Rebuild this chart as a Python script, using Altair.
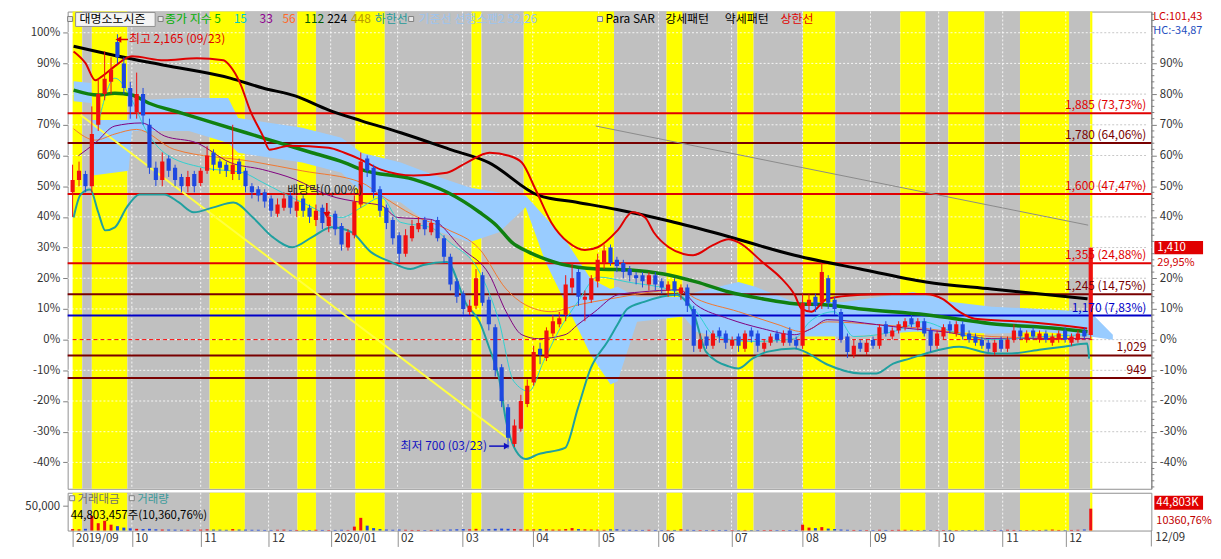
import altair as alt
import pandas as pd

F = "Noto Sans CJK KR"
W, H, VH = 1090, 480, 38

# ---------------- data (values in % vs base price 1,085) ----------------
days = list(range(0, 320, 2))   # trading-day index

opens = [
    48, 52, 54, 50, 70, 80, 84, 97, 90, 82,
    74, 80, 70, 56, 52, 59, 56, 53, 50, 54,
    51, 55, 61, 58, 57, 54, 58, 55, 50, 49,
    48, 46, 41, 43, 47, 42, 46, 43, 39, 43,
    37, 41, 37, 30, 34, 44, 59, 56, 49, 43,
    39, 34, 28, 33, 36, 39, 35, 39, 33, 27,
    19, 15, 9, 11, 21, 13, 4, -9, -22, -34,
    -29, -21, -14, -3, -6, 2, 5, 8, 17, 22,
    13, 13, 19, 25, 30, 26, 25, 23, 21, 21,
    18, 21, 19, 16, 19, 15, 17, 10, -3, 1,
    -2, 3, 2, -2, 1, -3, 3, 2, -3, -1,
    2, -1, 3, 0, -2, 11, 14, 12, 20, 13,
    9, 1, -5, -1, -4, 0, -2, 5, 1, 3,
    4, 7, 4, 6, 3, -2, 1, 5, 2, 5,
    2, 1, 0, -1, -4, 0, -3, 0, 3, 0,
    3, 0, 2, -1, 0, 3, -1, 0, 3, 1.5,
]
closes = [
    52, 55, 50, 67, 80, 85, 88, 92, 82, 76,
    80, 73, 56, 52, 58, 55, 52, 50, 53, 50,
    55, 60, 57, 56, 55, 57, 54, 50, 48, 47,
    45, 42, 44, 46, 43, 45, 42, 40, 42, 38,
    40, 36, 31, 35, 45, 58, 55, 48, 42, 38,
    33, 28, 34, 37, 38, 36, 38, 33, 27, 18,
    14, 10, 11, 20, 12, 5, -10, -20, -32, -28,
    -20, -15, -4, -5, 3, 6, 7, 18, 20, 14,
    14, 20, 26, 29, 25, 24, 22, 21, 20, 19,
    21, 18, 17, 18, 16, 17, 11, -2, 0, -2,
    2, 1, -1, 0, -2, 2, 1, -2, -1, 1,
    0, 2, -1, -2, 12, 13, 11, 22, 12, 10,
    0, -4, -2, -3, -1, -2, 4, 2, 3, 5,
    6, 5, 6, 2, -2, 2, 4, 3, 5, 1,
    0, -1, -2, -3, -1, -3, 0, 3, 1, 2,
    1, 2, 0, 1, 2, 0, 1, 2, 1, 29.95,
]
highs = [
    57, 58, 55, 76, 85, 94, 92, 99.5, 92, 84,
    87, 82, 72, 58, 61, 60, 57, 54, 55, 55,
    56, 63, 62, 59, 58, 70, 59, 56, 51, 50,
    49, 47, 46, 48, 48, 47, 47, 44, 44, 44,
    42, 42, 38, 36, 47, 61, 60, 57, 50, 44,
    40, 35, 36, 39, 40, 40, 39, 40, 34, 28,
    20, 16, 13, 23, 22, 14, 5, -8, -21, -26,
    -18, -13, -2, -1, 4, 8, 9, 21, 25, 23,
    16, 21, 28, 31, 31, 27, 26, 24, 22, 22,
    22, 22, 20, 19, 20, 18, 18, 11, 2, 3,
    3, 4, 3, 1, 2, 3, 4, 3, 0, 2,
    3, 3, 4, 1, 15, 15, 15, 25, 21, 14,
    10, 2, 0, 0, 0, 1, 5, 6, 4, 6,
    7, 8, 7, 7, 4, 3, 5, 6, 6, 6,
    3, 2, 1, 0, 0, 1, 1, 5, 4, 3,
    4, 3, 3, 2, 3, 4, 2, 3, 4, 30,
]
lows = [
    40, 50, 48, 48, 68, 78, 80, 90, 80, 72,
    72, 70, 54, 50, 50, 53, 50, 48, 48, 48,
    50, 54, 55, 54, 53, 52, 52, 48, 46, 45,
    43, 40, 40, 42, 41, 40, 40, 38, 37, 36,
    35, 34, 29, 29, 33, 43, 53, 46, 40, 36,
    31, 25, 27, 32, 35, 34, 34, 32, 25, 16,
    12, 8, 8, 10, 11, 3, -12, -22, -35.5, -35,
    -30, -22, -15, -8, -7, 1, 4, 6, 15, 11,
    6, 12, 17, 23, 24, 22, 20, 19, 18, 17,
    16, 16, 15, 14, 14, 13, 9, -4, -4, -3,
    -3, -1, -3, -3, -4, -4, -1, -4, -4, -2,
    -1, -2, -2, -3, -3, 9, 9, 10, 10, 8,
    -1, -6, -6, -4, -5, -3, -3, 1, 0, 2,
    3, 4, 3, 1, -4, -3, 0, 2, 1, 0,
    -1, -2, -3, -4, -5, -4, -4, -1, 0, -1,
    0, -1, -1, -2, -1, -1, -2, -1, 0, 0,
]
volumes = [
    3000, 2500, 3500, 30000, 15000, 20000, 12000, 9000, 6000, 4500,
    3500, 3000, 3500, 2500, 2000, 2000, 1800, 1500, 1500, 1800,
    2000, 2500, 2000, 1800, 1500, 3000, 2000, 1800, 1500, 1500,
    1200, 1200, 1500, 1800, 1200, 1200, 1000, 1000, 1500, 1200,
    1000, 1200, 1500, 1200, 8000, 26000, 10000, 5000, 3000, 2000,
    1500, 2000, 1500, 1200, 1200, 1000, 1200, 1500, 1500, 2000,
    2500, 3000, 2500, 3500, 2000, 3000, 3500, 4000, 3500, 3000,
    2500, 2000, 2500, 3000, 2500, 2000, 2000, 3000, 5000, 3000,
    2500, 2000, 1800, 1500, 2500, 2500, 1500, 1500, 1200, 1200,
    1500, 1200, 1000, 1200, 1200, 2500, 1500, 1200, 1000, 1000,
    1200, 1000, 1200, 1000, 1000, 1200, 1000, 1000, 1000, 1200,
    1000, 1000, 1000, 1200, 12000, 6000, 5000, 7000, 4000, 3000,
    2000, 1500, 1200, 1200, 1000, 1000, 1500, 1200, 1200, 1500,
    1500, 1200, 1000, 1200, 1000, 1000, 1000, 1200, 1000, 1000,
    1000, 1200, 1000, 1000, 1000, 1200, 1500, 1200, 1000, 1000,
    1200, 1000, 1500, 2000, 1200, 1000, 1200, 1500, 2000, 44803,
]

# background period bands
band_start = [0, 3, 6, 17.1, 42.8, 53.8, 70.2, 76, 88.3, 97.5, 124.6, 127.7, 140.9,
              169.1, 185.5, 190.5, 207.6, 212.7, 228.1, 238.2, 258.5, 266.4, 273.5,
              284.8, 295.9, 311.2, 317.8]
band_end = band_start[1:] + [318.5]
band_kind = ['y', 'g'] * 13 + ['y']

# moving averages / bands (index, %)
black_i = [0.3, 13.2, 28.6, 49.2, 59.4, 69.5, 80, 90.2, 102.5, 117.8, 130, 145.5, 157.8,
           170, 185, 200, 225.5, 246, 266.5, 287, 317]
black_v = [95.6, 92.6, 89.4, 85.2, 82, 79.4, 74.8, 71.3, 67.4, 62, 57.7, 47, 44.7,
           42.4, 39, 35, 27.5, 23, 18.8, 16.5, 13.3]
green_i = [0.3, 8, 13.2, 18.5, 23.7, 33.8, 44, 54.2, 64.6, 74.8, 84.9, 90.2, 106.5, 117,
           127.1, 132.3, 137.2, 142.5, 147.7, 152.6, 157.8, 164, 174.2, 184.6, 194.8,
           205, 215.4, 225.5, 235.7, 246.2, 266.5, 287, 307.7, 317]
green_v = [81.3, 79.7, 80.3, 79.7, 77.1, 73.9, 70.6, 67.4, 64.1, 60.9, 57.7, 55.4, 52.2, 48,
           41.5, 37.3, 31.7, 28.5, 26.2, 24.6, 23.6, 23, 22.7, 21.4, 18.8,
           15.5, 13.3, 11.7, 11.3, 10, 8.1, 5.2, 3.6, 2.6]
upper_i = [0.3, 4, 7.1, 9.2, 13.2, 18.5, 28.6, 38.8, 47.1, 49.2, 52.3, 55.4, 59.4, 61.5,
           67.7, 80, 84.9, 90.2, 96.3, 106.5, 116.9, 123.1, 130.2, 136.3, 140.3, 144.6,
           149.5, 154.8, 160, 164, 170.2, 174.8, 178.8, 181.5, 186.2, 190.8, 193.8, 200,
           204.9, 208, 215.4, 221.5, 225.5, 227.7, 230.8, 235.7, 246.2, 256.3, 266.5,
           271.7, 276.9, 281.8, 297.2, 312.6, 316.9]
upper_v = [93.9, 90.1, 84.5, 85.8, 89.1, 92.3, 91, 91.7, 91, 89.1, 83.6, 74.8, 66.4, 61.9,
           63.2, 62.5, 60.9, 58.6, 55.4, 53.5, 54.4, 57.7, 60.9, 59.9, 57.7, 48.9,
           38.2, 31.7, 29.2, 30.1, 35.6, 41.5, 39.8, 35, 30.1, 27.9, 27.5, 30.8,
           32.7, 31.7, 25.3, 19.8, 14.6, 10, 9.1, 13.3, 14.6, 14.9, 14.9,
           13.3, 9.1, 6.8, 5.8, 4.2, 3.6]
lower_i = [0.3, 2.5, 5.5, 8, 10.2, 13.2, 16.9, 20.9, 28.6, 33.2, 37.8, 44, 50.2, 56.3, 62.5,
           68.6, 74.8, 80.9, 87.1, 93.2, 99.4, 105.5, 109.5, 116.9, 123.1, 127.1, 130.2,
           133.2, 135.4, 138.5, 141.5, 145.5, 153.8, 157.8, 161.8, 167.1, 170.2, 173.2,
           178.5, 188.6, 190.8, 193.8, 197.8, 204.9, 208, 212.3, 217.2, 225.5, 228.6,
           235.7, 246.2, 251.1, 256.3, 261.5, 266.5, 276.9, 287.1, 293.2, 302.5, 309.5,
           316.9, 317.5]
lower_v = [39.8, 47.3, 48.9, 41.5, 35.6, 36.6, 43.1, 47.3, 47.3, 44.7, 41.5, 43.1, 44.7, 39.8, 33.4,
           30.1, 33.4, 36.6, 35, 28.5, 25.3, 23, 24.3, 25.3, 11.3, 5.8, -2.9,
           -12.6, -26.6, -36.3, -38.9, -37.3, -35.3, -22.4, -9.4, -0.6, 4.9, 10,
           12.3, 14.6, 13.3, 9.1, -3.9, -8.7, -9.4, -6.2, -3.9, -2.9, -3.9,
           -8.1, -11, -11, -7.8, -6.2, -4.5, -2.3, -4.5, -4.5, -3.2, -2.3,
           -1.3, -6.2]
ma56_i = [0.3, 7.1, 13.2, 20, 31.7, 56.3, 71.7, 90.2, 96.3, 106.5, 116.9, 127.1, 135.4,
          141.5, 149.5, 157.8, 168, 189.5, 194.8, 208, 220.3, 227.7, 235.7, 251.1, 266.5,
          287.1, 317.8]
ma56_v = [68.7, 65, 67, 68.5, 62, 58, 55, 51.2, 47, 40.5, 36, 29.5, 16.5,
          11.3, 9.1, 11.3, 13.3, 16.2, 13.3, 9.1, 4.9, 2.6, 5.8, 4.9, 3.6,
          1, 0.3]
ma33_i = [1.8, 7.1, 13.2, 21.5, 28.6, 38.8, 49.2, 59.4, 69.5, 80, 90.2, 96.3, 101.5, 111.7,
          121.8, 130.2, 135.4, 140.3, 145.5, 153.8, 157.8, 163.1, 170.2, 177.2, 189.5,
          194.8, 204.9, 215.4, 225.5, 230.8, 235.7, 251.1, 261.5, 271.7, 287.1, 317.8]
ma33_v = [59.9, 64.1, 69.6, 70.6, 66.4, 64.1, 57.7, 55.4, 52.2, 47, 44.7, 43.7, 39.8, 39.2,
          29.5, 21.1, 9.1, 1.6, 0.3, 1.6, 4.9, 9.1, 14.6, 15.5, 16.2,
          11.3, 6.8, 3.6, 1.6, 3.6, 6.5, 4.9, 3.6, 2.6, 0.3, 0.3]
ma15_i = [8, 13.2, 18.5, 22.5, 28.6, 40.9, 53.2, 59.4, 71.7, 84, 90.2, 96.3, 102.5, 111.7,
          117.8, 127.1, 133.2, 137.8, 142.5, 147.1, 151.7, 157.8, 164, 173.2, 188.6,
          194.8, 200.9, 213.2, 225.5, 230.2, 237.8, 244, 256.3, 265.5, 274.8, 287.1,
          302.5, 317.8]
ma15_v = [70.6, 85.2, 78.1, 69, 60.9, 56, 54.4, 51.2, 44.7, 39.8, 43.1, 46.3, 38.2, 36.6,
          31.7, 22, 5.8, -13.6, -16.8, -7.1, 2.6, 12.3, 20.4, 18.8, 15.5,
          9.1, 1, -0.6, 0.3, 5.8, 9.1, 1, 2.6, 5.8, 2.6, 0,
          1, 1.6]
cloud_i = [0.3, 5.8, 6.2, 17.5, 18.5, 36.3, 48.6, 51.7, 71.7, 84, 90.2, 102.5, 114.8, 124,
           133.2, 141.5, 147.7, 153.8, 161.8, 168, 170.2, 176.3, 190.8, 194.8, 208, 213.2,
           225.5, 240.9, 262.5, 274.8, 287.1, 302.5, 317.8, 324.9]
cloud_top = [84.2, 83.6, 71.6, 71.6, 78, 78.7, 78.7, 72.2, 69, 65.8, 60.9, 57.7, 52.8, 49.6,
             47.9, 47, 39.8, 32.7, 19.8, 16.5, 17.2, 13.9, 13.9, 15.5, 18.8, 17.2,
             12.3, 12.3, 15.5, 12.3, 10.7, 10, 9.1, 1.6]
cloud_bot = [77.7, 77.1, 53.5, 55, 68, 68, 64.1, 60.9, 57.7, 54.4, 47.9, 44.7, 35, 31.7,
             35, 43.1, 25.3, 12.3, -4.9, -14.6, -13.6, 5.8, 7.5, 2.6, -0.6, -0.6,
             1, 1, 2.6, 2.6, 1.9, 2.6, 1, 0]
trend1_i, trend1_v = [2.5, 136.9], [73.2, -33]
trend2_i, trend2_v = [163.4, 317.2], [69.6, 37.3]

levels = [73.73, 64.06, 47.47, 24.88, 14.75, 7.83, -5.16, -12.5]
level_labels = ["1,885 (73,73%)", "1,780 (64,06%)", "1,600 (47,47%)", "1,355 (24,88%)",
                "1,245 (14,75%)", "1,170 (7,83%)", "1,029", "949"]
level_kind = ['r', 'm', 'r', 'r', 'm', 'b', 'm', 'm']

pct_ticks = [-40, -30, -20, -10, 0, 10, 20, 30, 40, 50, 60, 70, 80, 90, 100]
# right-axis labels hidden in the original under the LC/HC and 1,410 boxes are left out
right_ticks = [-40, -30, -20, -10, 0, 10, 20, 40, 50, 60, 70, 80, 90]
minor_ticks = [v for v in range(-48, 107, 2) if v % 10]
month_pos = [0, 18.5, 40, 61.2, 80.6, 101.5, 121.8, 143.7, 164.3, 183, 205.8, 228, 249.2,
             270.5, 290.5, 310.2]
month_lab = ["2019/09", "10", "11", "12", "2020/01", "02", "03", "04", "05", "06", "07",
             "08", "09", "10", "11", "12"]

# ---------------- scales & helpers ----------------
XS = alt.Scale(domain=[0, 335.38], nice=False, zero=False)
YS = alt.Scale(domain=[-48.6, 106.9], nice=False, zero=False)
VS = alt.Scale(domain=[0, 77400], nice=False)
ONE = pd.DataFrame({'a': [0]})
UP, DOWN = '#f01010', '#1e48e0'


def xq(f, axis=None):
    return alt.X(f, type='quantitative', scale=XS, axis=axis)


def yq(f, axis=None):
    return alt.Y(f, type='quantitative', scale=YS, axis=axis)


def xd(v):
    return alt.XDatum(v, scale=XS, axis=None)


def yd(v):
    return alt.YDatum(v, scale=YS, axis=None)


def line(xs, vs, color, width, dash=None, interp='monotone'):
    df = pd.DataFrame({'i': xs, 'v': vs})
    kw = dict(color=color, strokeWidth=width, interpolate=interp, clip=True)
    if dash:
        kw['strokeDash'] = dash
    return alt.Chart(df).mark_line(**kw).encode(x=xq('i'), y=yq('v'))


def ptext(s, x, y, color, size=12, align='left', baseline='alphabetic'):
    return alt.Chart(ONE).mark_text(text=s, color=color, font=F, fontSize=size,
                                    align=align, baseline=baseline).encode(
        x=alt.value(x), y=alt.value(y))


def prect(x1, x2, y1, y2, fill, stroke=None):
    kw = dict(fill=fill)
    if stroke:
        kw.update(stroke=stroke, strokeWidth=1)
    return alt.Chart(ONE).mark_rect(**kw).encode(
        x=alt.value(x1), x2=alt.value(x2), y=alt.value(y1), y2=alt.value(y2))


axis_common = dict(labelExpr="datum.value + '%'", tickSize=5,
                   tickColor='#808080', grid=False, labelFont=F, labelFontSize=11.5,
                   labelColor='#333333', labelPadding=3, title=None)
LEFT_AXIS = alt.Axis(orient='left', values=pct_ticks, domain=False, minExtent=59,
                     maxExtent=59, **axis_common)
RIGHT_AXIS = alt.Axis(orient='right', values=right_ticks, domain=True, domainColor='#808080',
                      minExtent=48, maxExtent=48, **axis_common)

x_expr = " : ".join(f"datum.value == {p} ? '{l}'" for p, l in zip(month_pos, month_lab)) + " : ''"
XAXIS = alt.Axis(orient='bottom', values=month_pos, labelExpr=x_expr, tickSize=16,
                 tickColor='#909090', domain=False, grid=False, labelAlign='left',
                 labelBaseline='top', labelPadding=-14, labelOffset=3, labelFont=F,
                 labelFontSize=11.5, labelColor='#333333', labelOverlap=False,
                 labelFlush=False, minExtent=16, maxExtent=16, title=None)

# ---------------- main panel ----------------
bands_df = pd.DataFrame({'s': band_start, 'e': band_end, 'k': band_kind})
bands_df['col'] = bands_df['k'].map({'y': '#ffff00', 'g': '#c0c0c0'})


def band_layer(h, axis=None):
    return alt.Chart(bands_df).mark_rect().encode(
        x=xq('s', axis), x2='e', y=alt.value(0), y2=alt.value(h),
        color=alt.Color('col:N', scale=None))


pct_df = pd.DataFrame({'v': pct_ticks})
month_df = pd.DataFrame({'p': month_pos[1:]})

hgrid = alt.Chart(pct_df).mark_rule(color='white', strokeDash=[2, 2], opacity=0.85).encode(
    y=yq('v', LEFT_AXIS))
hgrid_white = alt.Chart(pct_df).mark_rule(color='#c8c8c8', strokeDash=[2, 2]).encode(
    y=yq('v', RIGHT_AXIS), x=xd(318.5), x2=alt.X2Datum(335.38))
vgrid = alt.Chart(month_df).mark_rule(color='white', strokeDash=[2, 2], opacity=0.85).encode(
    x=xq('p'))

cloud_df = pd.DataFrame({'i': cloud_i, 't': cloud_top, 'b': cloud_bot})
cloud = alt.Chart(cloud_df).mark_area(color='#99ccff', opacity=1, clip=True).encode(
    x=xq('i'), y=yq('t'), y2='b')

zero_line = alt.Chart(ONE).mark_rule(color='#ff0000', strokeDash=[4, 3]).encode(
    y=yd(0), x=xd(0), x2=alt.X2Datum(318.5))

lv = pd.DataFrame({'v': levels, 'lab': level_labels, 'k': level_kind})
lv['col'] = lv['k'].map({'r': '#e00000', 'm': '#780000', 'b': '#0000c8'})
level_rules = alt.Chart(lv).mark_rule(strokeWidth=2).encode(
    y=yq('v'), color=alt.Color('col:N', scale=None))
level_text = alt.Chart(lv).mark_text(align='right', baseline='bottom', dy=-1, font=F,
                                     fontSize=12).encode(
    x=alt.value(1085), y=yq('v'), text='lab:N', color=alt.Color('col:N', scale=None))

cd = pd.DataFrame({'d': days, 'o': opens, 'c': closes, 'h': highs, 'l': lows, 'vol': volumes})
cd['col'] = [UP if c >= o else DOWN for o, c in zip(opens, closes)]
wicks = alt.Chart(cd).mark_rule(strokeWidth=1, clip=True).encode(
    x=xq('d'), y=yq('l'), y2='h', color=alt.Color('col:N', scale=None))
bodies = alt.Chart(cd).mark_bar(size=4.2, clip=True).encode(
    x=xq('d'), y=yq('o'), y2='c', color=alt.Color('col:N', scale=None))

# annotations
hi_day, hi_val = 14.3, 97.8
lo_day, lo_val = 135.6, -34.7
ann = [
    alt.Chart(ONE).mark_rule(color='#e00000', strokeWidth=1.5).encode(
        x=xd(hi_day + 0.4), x2=alt.X2Datum(hi_day + 3), y=yd(hi_val)),
    alt.Chart(ONE).mark_point(shape='triangle-left', filled=True, size=45, color='#e00000',
                              opacity=1).encode(x=xd(hi_day), y=yd(hi_val)),
    alt.Chart(ONE).mark_text(text='최고 2,165 (09/23)', color='#e00000', font=F, fontSize=12,
                             align='left', baseline='middle').encode(
        x=xd(hi_day + 3.3), y=yd(hi_val)),
    alt.Chart(ONE).mark_rule(color='#1010c0', strokeWidth=1.5).encode(
        x=xd(lo_day - 5.5), x2=alt.X2Datum(lo_day - 0.4), y=yd(lo_val)),
    alt.Chart(ONE).mark_point(shape='triangle-right', filled=True, size=45, color='#1010c0',
                              opacity=1).encode(x=xd(lo_day), y=yd(lo_val)),
    alt.Chart(ONE).mark_text(text='최저 700 (03/23)', color='#1010c0', font=F, fontSize=12,
                             align='right', baseline='middle').encode(
        x=xd(lo_day - 6.2), y=yd(lo_val)),
    alt.Chart(ONE).mark_text(text='배당락(0,00%)', color='#202020', font=F, fontSize=12,
                             align='left', baseline='middle').encode(x=xd(67), y=yd(48.6)),
    alt.Chart(ONE).mark_rule(color='#e00000', strokeWidth=1.5).encode(
        x=xd(79.4), y=yd(44.5), y2=alt.Y2Datum(41.5)),
    alt.Chart(ONE).mark_point(shape='triangle-down', filled=True, size=50, color='#e00000',
                              opacity=1).encode(x=xd(79.4), y=yd(40.6)),
]

# legend row
legend_items = [
    ('대명소노시즌', 12, '#000000'),
    ('종가 지수 5', 98, '#00b000'),
    ('15', 167, '#00c8c8'),
    ('33', 193, '#900090'),
    ('56', 216, '#ff6a2a'),
    ('112', 238, '#005a00'),
    ('224', 261, '#000000'),
    ('448', 285, '#b89a00'),
    ('하한선', 309, '#1f9a9a'),
    ('기준선 선행스팬2 52,26', 353, '#9cc4f0'),
    ('Para SAR', 541, '#000000'),
    ('강세패턴', 601, '#000000'),
    ('약세패턴', 661, '#000000'),
    ('상한선', 717, '#e00000'),
]
legend_layers = [prect(8, 88, 1, 15, '#f4f4f4', '#909090')]
for sx in [0, 91, 343, 533]:
    legend_layers.append(prect(sx, sx + 5, 5, 10, '#e8e8e8', '#808080'))
for s, x, c in legend_items:
    legend_layers.append(ptext(s, x, 12, c))

# right-side labels
right_layers = [
    ptext('LC:101,43', W + 2, -1, '#d00000', size=11, baseline='top'),
    ptext('HC:-34,87', W + 2, 14, '#1f4fc0', size=11, baseline='top'),
    alt.Chart(ONE).mark_rect(color='#e00000').encode(
        x=alt.value(W + 3), x2=alt.value(W + 52), y=yd(32.1), y2=alt.Y2Datum(27.8)),
    alt.Chart(ONE).mark_text(text='1,410', color='white', font=F, fontSize=11.5, align='left',
                             baseline='middle').encode(x=alt.value(W + 6), y=yd(29.95)),
    alt.Chart(ONE).mark_text(text='29,95%', color='#d00000', font=F, fontSize=11,
                             align='left', baseline='middle', dy=15).encode(
        x=alt.value(W + 6), y=yd(29.95)),
]
minor = alt.Chart(pd.DataFrame({'v': minor_ticks})).mark_rule(color='#808080').encode(
    y=yq('v'), x=alt.value(W), x2=alt.value(W + 3))

main_layers = [
    band_layer(H), vgrid, hgrid, hgrid_white, cloud, zero_line, level_rules,
    line(trend1_i, trend1_v, '#ffff40', 2, interp='linear'),
    line(trend2_i, trend2_v, '#8a8a8a', 1, interp='linear'),
    line(ma56_i, ma56_v, '#f07830', 1),
    line(ma33_i, ma33_v, '#800080', 1),
    line(ma15_i, ma15_v, '#30d0d0', 1),
    line(green_i, green_v, '#108010', 3.5),
    line(black_i, black_v, '#000000', 3),
    line(upper_i, upper_v, '#e00000', 2),
    line(lower_i, lower_v, '#20a0a0', 2),
    wicks, bodies, level_text,
] + ann + legend_layers + right_layers + [minor]

main = alt.layer(*main_layers).resolve_axis(y='independent').properties(width=W, height=H)

# ---------------- volume panel ----------------
VAXIS = alt.Axis(orient='left', values=[50000], labelExpr="'50,000'", tickSize=5,
                 tickColor='#808080', domain=False, grid=False, labelFont=F,
                 labelFontSize=11.5, labelColor='#333333', labelPadding=3,
                 minExtent=59, maxExtent=59, title=None)

vbars = alt.Chart(cd).mark_bar(size=3).encode(
    x=xq('d', XAXIS), y=alt.Y('vol:Q', scale=VS, axis=VAXIS),
    color=alt.Color('col:N', scale=None))
vgrid2 = alt.Chart(month_df).mark_rule(color='white', strokeDash=[2, 2], opacity=0.85).encode(
    x=xq('p', XAXIS))

vol_layers = [
    band_layer(VH, XAXIS), vgrid2, vbars,
    prect(2, 7, 3, 8, '#e8e8e8', '#808080'),
    ptext('거래대금', 10, 10, '#707070', size=11.5),
    prect(62, 67, 3, 8, '#e8e8e8', '#808080'),
    ptext('거래량', 70, 10, '#3a9a9a', size=11.5),
    ptext('44,803,457주(10,360,76%)', 3, 26, '#000000', size=11.5),
    prect(W + 3, W + 52, 3, 17, '#e00000'),
    ptext('44,803K', W + 5, 10, 'white', size=11.5, baseline='middle'),
    ptext('10360,76%', W + 5, 28, '#c00000', size=11, baseline='middle'),
    alt.Chart(ONE).mark_rule(color='#909090').encode(
        x=alt.value(W), y=alt.value(VH), y2=alt.value(VH + 16)),
    ptext('12/09', W + 4, VH + 2, '#333333', size=11.5, baseline='top'),
]
vol = alt.layer(*vol_layers).properties(width=W, height=VH)

chart = alt.vconcat(main, vol, spacing=2).properties(
    padding={'left': 0, 'top': 0, 'right': 0, 'bottom': 0}, background='white'
).configure_view(stroke='#909090', strokeWidth=1)

chart.save("out.html", embed_options={"renderer": "svg", "actions": False})
